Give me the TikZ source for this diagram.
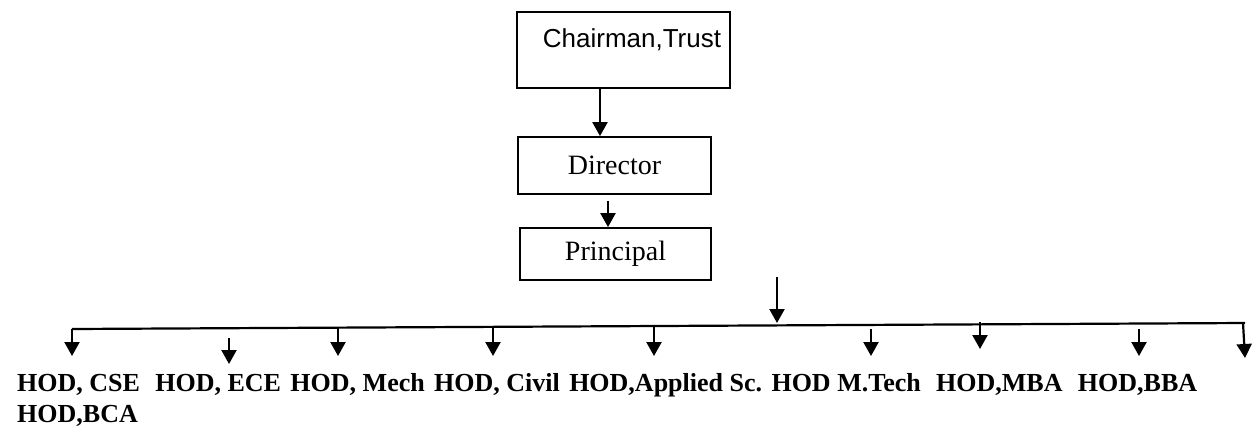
\documentclass[tikz,border=0pt]{standalone}
\usepackage{fontspec}
\setmainfont{Liberation Serif}
\newfontfamily\arialfont{Liberation Sans}
\usetikzlibrary{arrows.meta,calc}
\begin{document}
\begin{tikzpicture}[x=1pt,y=-1pt,
  box/.style={draw,line width=1.8pt,rectangle,inner sep=0pt},
  arr/.style={line width=2.2pt,-{Triangle[width=15pt,length=14pt]}},
  bus/.style={line width=2.2pt},
  hod/.style={anchor=base west,inner sep=0pt,font=\fontsize{26}{30}\selectfont\bfseries}
]
\useasboundingbox (0,0) rectangle (1253,426);
% boxes
\node[box,minimum width=213pt,minimum height=76pt] (chair) at (623.5,50) {};
\node[inner sep=0pt,font=\arialfont\fontsize{26}{30}\selectfont] (chairtxt) at (632,40) {Chairman,Trust};
\node[box,minimum width=193pt,minimum height=57pt,font=\fontsize{28}{32}\selectfont] (dir) at (614.5,165.5) {Director};
\node[box,minimum width=191pt,minimum height=52pt,font=\fontsize{28}{32}\selectfont] (prin) at (615.5,254) {Principal};
% connectors
\draw[arr] ([xshift=-23.5pt]chair.south) -- ([xshift=-23.5pt]chair.south |- dir.north);
\draw[arr] ([xshift=-6.5pt,yshift=-6pt]dir.south) -- ([xshift=-6.5pt]dir.south |- prin.north);
\coordinate (top) at (777,277);
\coordinate (topend) at (777,323);
\draw[arr] (top) -- (topend);
% bus
\coordinate (busL) at (72,329);
\coordinate (busR) at (1245,323);
\draw[bus] (busL) -- (busR);
% labels
\node[hod] (cse) at (17,391) {HOD, CSE};
\node[hod] (ece) at ([xshift=15pt]cse.base east) {HOD, ECE};
\node[hod] (mech) at ([xshift=9pt]ece.base east) {HOD, Mech};
\node[hod] (civil) at ([xshift=9pt]mech.base east) {HOD, Civil};
\node[hod] (appl) at ([xshift=9pt]civil.base east) {HOD,Applied Sc.};
\node[hod] (mtech) at ([xshift=9pt]appl.base east) {HOD M.Tech};
\node[hod] (mba) at ([xshift=15pt]mtech.base east) {HOD,MBA};
\node[hod] (bba) at ([xshift=15pt]mba.base east) {HOD,BBA};
\node[hod] (bca) at (17,422) {HOD,BCA};
% branch arrows
\coordinate (a1) at (72,329);   \coordinate (t1) at (72,356);
\coordinate (a2) at (229,338);  \coordinate (t2) at (229,364);
\coordinate (a3) at (338,328);  \coordinate (t3) at (338,356);
\coordinate (a4) at (493,328);  \coordinate (t4) at (493,356);
\coordinate (a5) at (654,327);  \coordinate (t5) at (654,356);
\coordinate (a7) at (871,329);  \coordinate (t7) at (871,356);
\coordinate (a8) at (980,322);  \coordinate (t8) at (980,349);
\coordinate (a9) at (1139,329); \coordinate (t9) at (1139,356);
\coordinate (a10) at (1243,323); \coordinate (t10) at (1245,358);
\foreach \i in {1,2,3,4,5,7,8,9,10} \draw[arr] (a\i) -- (t\i);
\end{tikzpicture}
\end{document}
